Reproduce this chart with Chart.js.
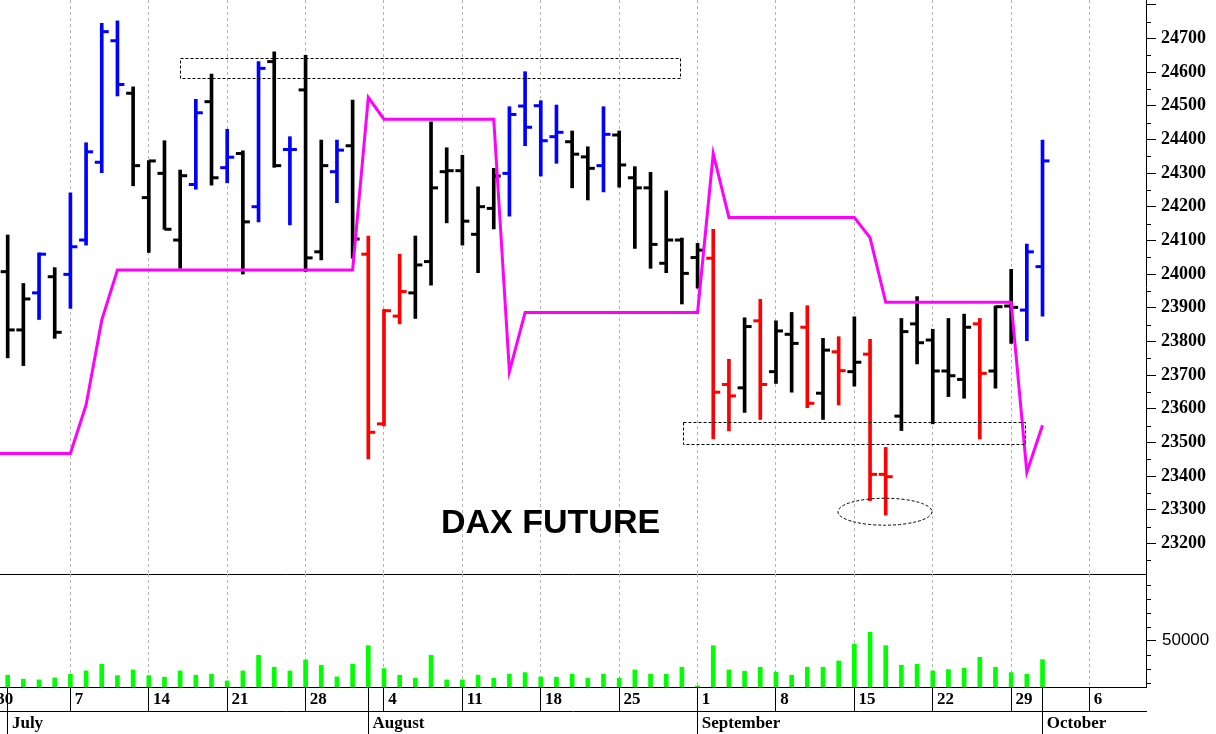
<!DOCTYPE html>
<html>
<head>
<meta charset="utf-8">
<title>DAX Future</title>
<script src="https://cdn.jsdelivr.net/npm/chart.js@4.4.1/dist/chart.umd.min.js"></script>
<style>
  html, body { margin: 0; padding: 0; background: #fff; }
  #wrap { position: relative; width: 1216px; height: 734px; overflow: hidden; background: #fff; }
  #priceChart { position: absolute; left: 0; top: 0; }
  #volumeChart { position: absolute; left: 0; top: 574px; }
  #caption {
    position: absolute; left: 441px; top: 504px;
    font: bold 34px "Liberation Sans", Arial, sans-serif; line-height: 34px;
    color: #000; white-space: nowrap;
  }
</style>
</head>
<body>
<div id="wrap">
  <canvas id="priceChart" width="1216" height="575"></canvas>
  <canvas id="volumeChart" width="1216" height="160"></canvas>
  <div id="caption">DAX FUTURE</div>
</div>
<script>
// DATA: one entry per trading session, session 0 = 30 June, session 67 = 1 October
const opens = [
  23997, 24007, 23834, 23944, 23992, 23999, 24101, 24332, 24693, 24537,
  24227, 24299, 24101, 24266, 24512, 24316, 24358, 24200, 24631, 24370,
  24547, 24066, 24304, 24381, 24059, 23555, 23875, 23944, 24037, 24304,
  24307, 24118, 24195, 24299, 24499, 24500, 24408, 24393, 24348, 24322,
  24413, 24286, 24256, 24032, 24101, 24049, 24047, 23672, 23662, 23861,
  23710, 23821, 23842, 23646, 23769, 23710, 23762, 23405, 23578, 23852,
  23804, 23712, 23687, 23852, 23712, 23905, 23893, 24022
];
const highs = [
  24101, 24116, 23972, 24063, 24019, 24241, 24390, 24745, 24752, 24556,
  24337, 24396, 24309, 24519, 24594, 24430, 24366, 24631, 24660, 24408,
  24650, 24398, 24398, 24517, 24113, 23895, 24059, 24113, 24452, 24375,
  24353, 24259, 24314, 24497, 24601, 24515, 24502, 24425, 24378, 24497,
  24425, 24319, 24302, 24247, 24107, 24091, 24133, 23747, 23870, 23925,
  23861, 23886, 23906, 23809, 23814, 23873, 23806, 23485, 23868, 23933,
  23836, 23868, 23881, 23868, 23905, 24014, 24089, 24398
];
const lows = [
  23923, 23751, 23728, 23865, 23809, 23898, 24086, 24301, 24529, 24262,
  24064, 24133, 24017, 24252, 24264, 24271, 24000, 24155, 24317, 24146,
  24007, 24042, 24212, 24047, 23451, 23549, 23852, 23868, 23967, 24152,
  24086, 24004, 24134, 24172, 24381, 24291, 24329, 24256, 24220, 24244,
  24258, 24076, 24017, 24004, 23911, 23958, 23510, 23534, 23589, 23568,
  23675, 23649, 23603, 23568, 23611, 23667, 23327, 23284, 23535, 23733,
  23555, 23636, 23631, 23510, 23661, 23794, 23802, 23875
];
const closes = [
  24062, 23834, 23926, 24059, 23827, 24081, 24363, 24720, 24563, 24322,
  24336, 24133, 24292, 24479, 24286, 24347, 24155, 24611, 24322, 24370,
  24048, 24322, 24368, 24104, 23530, 23891, 23948, 24027, 24256, 24307,
  24157, 24200, 24291, 24474, 24436, 24396, 24421, 24356, 24314, 24415,
  24324, 24256, 24088, 24101, 24002, 24071, 23649, 23638, 23844, 23672,
  23831, 23794, 23616, 23774, 23713, 23738, 23405, 23398, 23829, 23796,
  23712, 23698, 23842, 23705, 23903, 23901, 24066, 24336
];
// U = blue bar, N = black bar, D = red bar
const barTone = [
  'U','N','N','U','N','U','U','U','U','N',
  'N','N','N','U','N','U','N','U','N','U',
  'N','N','U','N','D','D','D','N','N','N',
  'N','N','N','U','U','U','U','N','N','U',
  'N','N','N','N','N','N','D','D','N','D',
  'N','N','D','N','D','N','D','D','N','N',
  'N','N','N','D','N','N','U','U'
];
const stopLine = [
  23467, 23467, 23467, 23467, 23467, 23467, 23611, 23863, 24012, 24012,
  24012, 24012, 24012, 24012, 24012, 24012, 24012, 24012, 24012, 24012,
  24012, 24012, 24012, 24012, 24525, 24460, 24460, 24460, 24460, 24460,
  24460, 24460, 24460, 23710, 23886, 23886, 23886, 23886, 23886, 23886,
  23886, 23886, 23886, 23886, 23886, 23886, 24358, 24168, 24168, 24168,
  24168, 24168, 24168, 24168, 24168, 24168, 24108, 23916, 23916, 23916,
  23916, 23916, 23916, 23916, 23916, 23916, 23411, 23551
];
const volumes = [
  26000, 25290, 22430, 21930, 23360, 26000, 28360, 33140, 25000, 29070,
  25000, 23860, 28360, 25290, 26000, 21210, 28360, 39570, 31000, 28360,
  36210, 32430, 24070, 33140, 46430, 30000, 25290, 23140, 39570, 21930,
  21930, 25290, 23140, 26000, 27140, 24070, 23860, 26000, 23140, 26000,
  23140, 29070, 26000, 26000, 31000, 17640, 46430, 29070, 28140, 31000,
  27430, 25290, 31000, 31000, 35500, 47640, 56000, 46430, 32430, 33140,
  28360, 29290, 30290, 38140, 31000, 27140, 26000, 36430
];

// axis labels (session numbers of Mondays and of month starts)
const weekTicks = [0, 5, 10, 15, 20, 25, 30, 35, 40, 45, 50, 55, 60, 65, 70];
const weekLabels = ['30', '7', '14', '21', '28', '4', '11', '18', '25', '1', '8', '15', '22', '29', '6'];
const monthTicks = [1, 24, 45, 67];
const monthLabels = ['July', 'August', 'September', 'October'];
const priceLabels = [23200, 23300, 23400, 23500, 23600, 23700, 23800, 23900,
                     24000, 24100, 24200, 24300, 24400, 24500, 24600, 24700];

// drawn annotations: dashed boxes and the circled low
const priceZones = [
  { from: 12, to: 43.9, lo: 24581, hi: 24641 },
  { from: 44.05, to: 65.88, lo: 23495, hi: 23561 }
];
const lowMark = { x: 56.95, y: 23294, rx: 3, ry: 40 };

// visible window
const viewStart = 0.51;
const viewEnd = 73.6;

const toneColor = { U: '#0000ff', N: '#000000', D: '#ff0000' };
const barColors = barTone.map(t => toneColor[t]);

const priceTickValues = [];
for (let v = 23150; v <= 24800; v += 50) priceTickValues.push(v);
const volumeTickValues = [20000, 30000, 40000, 50000, 60000, 70000, 80000, 90000];
const dateAxisTicks = weekTicks.concat(monthTicks.filter(m => !weekTicks.includes(m))).sort((a, b) => a - b);

const serifBold = { family: "'Liberation Serif', 'Times New Roman', serif", weight: 'bold', size: 17 };

function noPad(s) {
  s.paddingTop = 0; s.paddingBottom = 0; s.paddingLeft = 0; s.paddingRight = 0;
}

// short ticks for the unlabelled steps of a right-hand axis
function minorTickPlugin(scaleId, isMajor) {
  return {
    id: 'minorTicks_' + scaleId,
    afterDraw(chart) {
      const s = chart.scales[scaleId];
      const ctx = chart.ctx;
      ctx.save();
      ctx.strokeStyle = '#000';
      ctx.lineWidth = 1;
      s.ticks.forEach(t => {
        if (isMajor(t.value)) return;
        const y = Math.round(s.getPixelForValue(t.value)) + 0.5;
        ctx.beginPath();
        ctx.moveTo(s.left, y);
        ctx.lineTo(s.left + 5, y);
        ctx.stroke();
      });
      ctx.restore();
    }
  };
}

const zoneMarks = {
  id: 'zoneMarks',
  afterDatasetsDraw(chart) {
    const { ctx, scales: { x, y } } = chart;
    ctx.save();
    ctx.strokeStyle = '#000';
    ctx.lineWidth = 1;
    ctx.setLineDash([3, 2]);
    priceZones.forEach(z => {
      const x1 = Math.round(x.getPixelForValue(z.from)) + 0.5;
      const x2 = Math.round(x.getPixelForValue(z.to)) + 0.5;
      const y1 = Math.round(y.getPixelForValue(z.hi)) + 0.5;
      const y2 = Math.round(y.getPixelForValue(z.lo)) + 0.5;
      ctx.strokeRect(x1, y1, x2 - x1, y2 - y1);
    });
    const cx = x.getPixelForValue(lowMark.x);
    const cy = y.getPixelForValue(lowMark.y);
    const rx = x.getPixelForValue(lowMark.x + lowMark.rx) - cx;
    const ry = cy - y.getPixelForValue(lowMark.y + lowMark.ry);
    ctx.beginPath();
    ctx.ellipse(cx, cy, rx, ry, 0, 0, Math.PI * 2);
    ctx.stroke();
    ctx.restore();
  }
};

const baseOptions = {
  responsive: false,
  animation: false,
  devicePixelRatio: 1,
  events: [],
  plugins: { legend: { display: false }, tooltip: { enabled: false } }
};

// PRICE PANEL
new Chart(document.getElementById('priceChart'), {
  type: 'line',
  data: {
    datasets: [
      {
        label: 'Stop',
        data: stopLine.map((v, i) => ({ x: i, y: v })),
        borderColor: '#ff00ff',
        borderWidth: 3,
        pointRadius: 0,
        tension: 0,
        fill: false,
        order: 0
      },
      {
        label: 'Close',
        data: closes.map((v, i) => ({ x: i, y: v })),
        showLine: false,
        pointStyle: 'dash',
        pointRadius: 7,
        pointBorderWidth: 3,
        pointBorderColor: barColors,
        pointBackgroundColor: barColors,
        pointRotation: 0,
        order: 1
      },
      {
        label: 'Open',
        data: opens.map((v, i) => ({ x: i, y: v })),
        showLine: false,
        pointStyle: 'dash',
        pointRadius: 7,
        pointBorderWidth: 3,
        pointBorderColor: barColors,
        pointBackgroundColor: barColors,
        pointRotation: 180,
        order: 1
      },
      {
        type: 'bar',
        label: 'Range',
        data: lows.map((v, i) => ({ x: i, y: [v, highs[i]] })),
        backgroundColor: barColors,
        borderWidth: 0,
        barThickness: 3,
        order: 2
      }
    ]
  },
  options: {
    ...baseOptions,
    layout: { autoPadding: false, padding: { top: 0, left: 0, right: 0, bottom: 1 } },
    scales: {
      x: {
        type: 'linear',
        min: viewStart,
        max: viewEnd,
        offset: false,
        afterBuildTicks: s => { s.ticks = weekTicks.map(v => ({ value: v })); },
        afterFit: s => { s.height = 0; noPad(s); },
        ticks: { display: false, autoSkip: false },
        grid: { color: '#b4b4b4', lineWidth: 1, drawTicks: false, offset: false },
        border: { display: true, color: '#000', width: 1, dash: [3, 3] }
      },
      y: {
        type: 'linear',
        position: 'right',
        min: 23109,
        max: 24814,
        afterBuildTicks: s => { s.ticks = priceTickValues.map(v => ({ value: v })); },
        afterFit: s => { s.width = 70; noPad(s); },
        ticks: {
          autoSkip: false,
          callback: v => priceLabels.includes(v) ? String(v) : '',
          font: { family: "'Liberation Serif', 'Times New Roman', serif", weight: 'bold', size: 18 },
          color: '#000',
          padding: 5
        },
        grid: {
          drawOnChartArea: false,
          tickLength: 10,
          tickColor: c => (c.tick && c.tick.value % 100 === 0) ? '#000' : 'rgba(0,0,0,0)'
        },
        border: { display: true, color: '#000', width: 1 }
      }
    }
  },
  plugins: [zoneMarks, minorTickPlugin('y', v => v % 100 === 0)]
});

// VOLUME PANEL + DATE ROWS
new Chart(document.getElementById('volumeChart'), {
  type: 'bar',
  data: {
    datasets: [{
      label: 'Volume',
      data: volumes.map((v, i) => ({ x: i, y: v })),
      backgroundColor: '#00ff00',
      borderWidth: 0,
      barThickness: 4,
      xAxisID: 'x',
      yAxisID: 'y'
    }]
  },
  options: {
    ...baseOptions,
    layout: { autoPadding: false, padding: 0 },
    scales: {
      x: {
        type: 'linear',
        position: 'bottom',
        weight: 0,
        min: viewStart,
        max: viewEnd,
        offset: false,
        afterBuildTicks: s => { s.ticks = dateAxisTicks.map(v => ({ value: v })); },
        afterFit: s => { s.height = 24; noPad(s); },
        ticks: {
          autoSkip: false,
          maxRotation: 0,
          minRotation: 0,
          align: 'start',
          padding: -22,
          color: '#000',
          font: serifBold,
          callback: v => {
            const k = weekTicks.indexOf(v);
            return k >= 0 ? ' ' + weekLabels[k] : '';
          }
        },
        grid: {
          offset: false,
          tickLength: 24,
          tickColor: '#000',
          color: c => (c.tick && weekTicks.includes(c.tick.value)) ? '#b4b4b4' : 'rgba(0,0,0,0)'
        },
        border: { display: true, color: '#000', width: 1, dash: [3, 3] }
      },
      month: {
        type: 'linear',
        axis: 'x',
        position: 'bottom',
        weight: 1,
        min: viewStart,
        max: viewEnd,
        offset: false,
        afterBuildTicks: s => { s.ticks = monthTicks.map(v => ({ value: v })); },
        afterFit: s => { s.height = 23; noPad(s); },
        ticks: {
          autoSkip: false,
          maxRotation: 0,
          minRotation: 0,
          align: 'start',
          padding: -21,
          color: '#000',
          font: serifBold,
          callback: v => ' ' + monthLabels[monthTicks.indexOf(v)]
        },
        grid: { offset: false, drawOnChartArea: false, tickLength: 23, tickColor: '#000' },
        border: { display: true, color: '#000', width: 1 }
      },
      y: {
        type: 'linear',
        position: 'right',
        min: 16834,
        max: 97780,
        afterBuildTicks: s => { s.ticks = volumeTickValues.map(v => ({ value: v })); },
        afterFit: s => { s.width = 70; noPad(s); },
        ticks: {
          autoSkip: false,
          callback: v => v === 50000 ? '50000' : '',
          font: { family: "'Liberation Sans', Arial, sans-serif", size: 17 },
          color: '#000',
          padding: 6
        },
        grid: {
          drawOnChartArea: false,
          tickLength: 10,
          tickColor: c => (c.tick && c.tick.value === 50000) ? '#000' : 'rgba(0,0,0,0)'
        },
        border: { display: true, color: '#000', width: 1 }
      }
    }
  },
  plugins: [minorTickPlugin('y', v => v === 50000)]
});
</script>
</body>
</html>
